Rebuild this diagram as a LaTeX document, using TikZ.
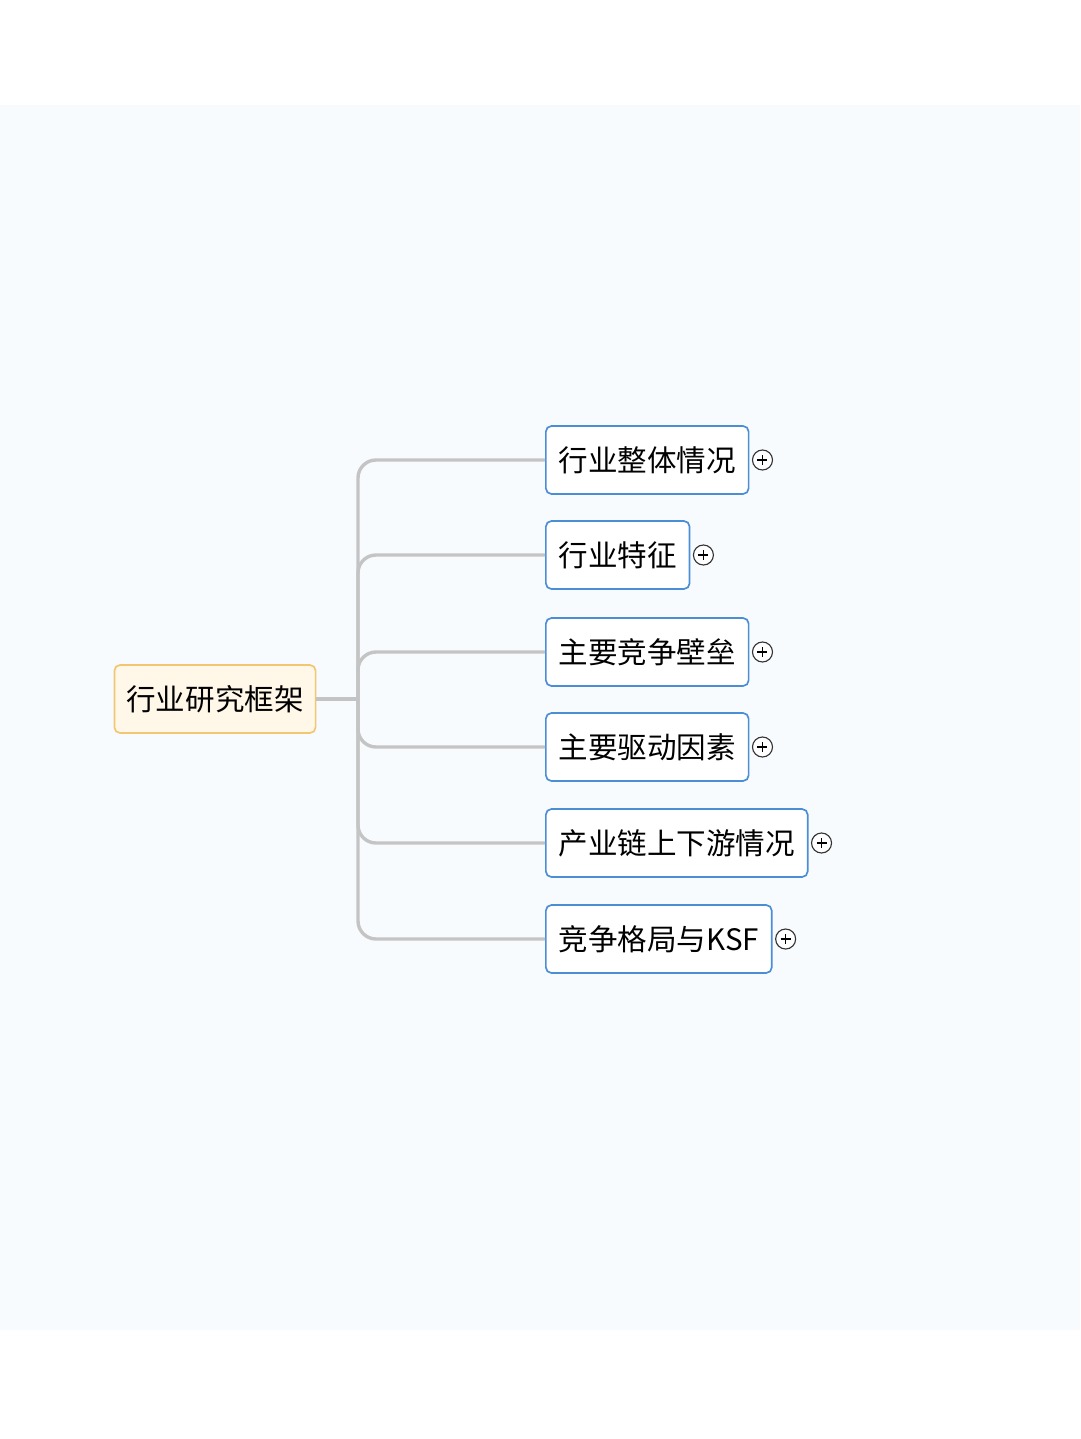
\documentclass[tikz,border=0pt]{standalone}
\usepackage{fontspec}
\newfontfamily\cjk{Noto Sans CJK SC}
\usetikzlibrary{calc}
\definecolor{bgblue}{HTML}{F7FBFE}
\definecolor{rootfill}{HTML}{FFF8E9}
\definecolor{rootline}{HTML}{F3C671}
\definecolor{boxline}{HTML}{4C8ED6}
\definecolor{wire}{HTML}{C4C4C4}
\tikzset{
    root-box/.style={
        draw=rootline, fill=rootfill, rounded corners=4pt, line width=1.2pt,
        minimum height=1.7cm, inner xsep=0.3cm, font=\cjk\fontsize{21}{21}\selectfont
    },
    topic-box/.style={
        draw=boxline, fill=white, rounded corners=4pt, line width=1.2pt, anchor=west,
        minimum height=1.7cm, inner xsep=0.32cm, font=\cjk\fontsize{21}{21}\selectfont
    },
    plus-mark/.style={
        draw=black!80, fill=white, circle, minimum size=0.5cm, inner sep=0pt, line width=0.8pt
    },
    branch/.style={draw=wire, line width=2.4pt, rounded corners=0.45cm},
}
\begin{document}
\begin{tikzpicture}[x=0.025cm, y=-0.025cm]
        \useasboundingbox (0,0) rectangle (1080,1439);
        \fill[bgblue] (0,105) rectangle (1080,1330);

        % ROOT
        \node[root-box] (ROOT) at (215,699) {行业研究框架};
        \coordinate (TRUNK) at (358,699);
        \draw[branch] (ROOT.east) -- (TRUNK);

        % TOPICS
        \node[topic-box] (T1) at (545,460) {行业整体情况};
        \node[topic-box] (T2) at (545,555) {行业特征};
        \node[topic-box] (T3) at (545,652) {主要竞争壁垒};
        \node[topic-box] (T4) at (545,747) {主要驱动因素};
        \node[topic-box] (T5) at (545,843) {产业链上下游情况};
        \node[topic-box] (T6) at (545,939) {竞争格局与KSF};

        % CONNECTIONS
        \foreach \t in {T1,T2,T3,T4,T5,T6} {
            \draw[branch] (TRUNK) |- (\t.west);
            \node[plus-mark] (P\t) at ($(\t.east)+(13,0)$) {};
            \draw[line width=0.8pt] ($(P\t.center)+(-5,0)$) -- ($(P\t.center)+(5,0)$)
                                    ($(P\t.center)+(0,-5)$) -- ($(P\t.center)+(0,5)$);
        }

    \end{tikzpicture}
\end{document}
